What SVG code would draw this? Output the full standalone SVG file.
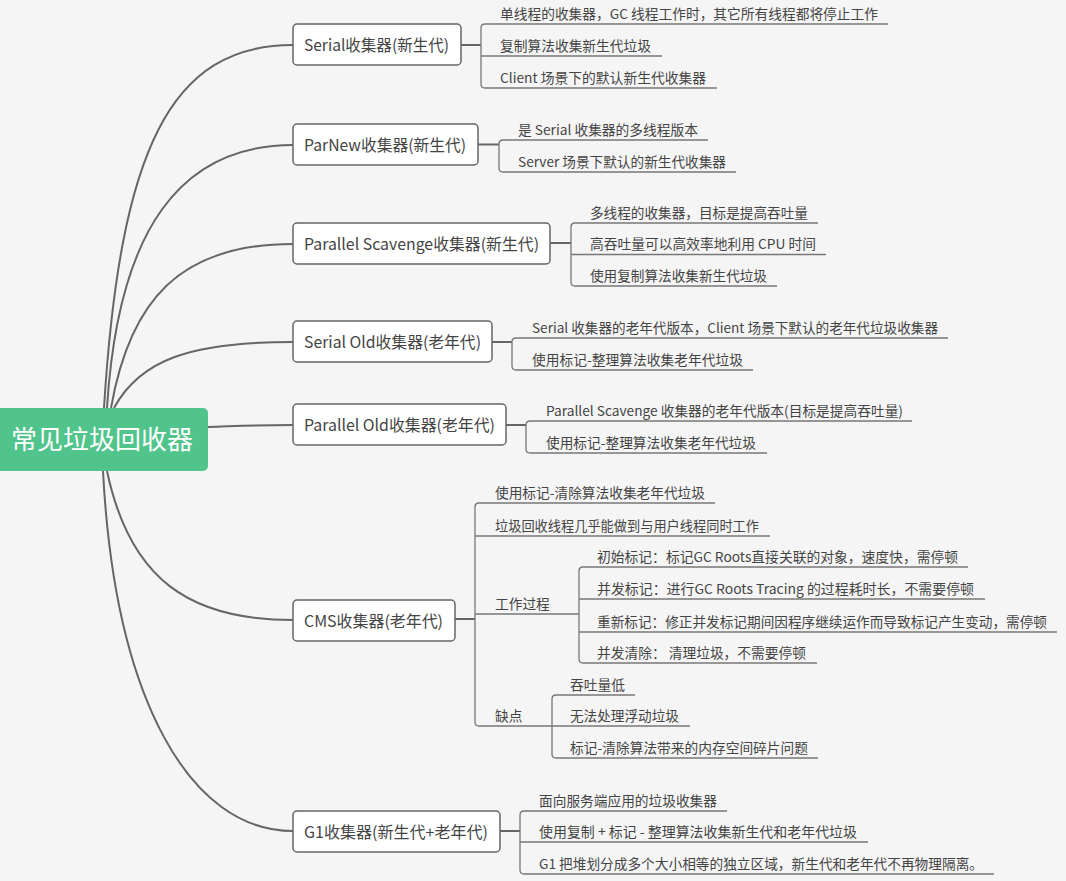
<svg xmlns="http://www.w3.org/2000/svg" width="1066" height="881" viewBox="0 0 1066 881">
<style>
.bg{fill:#f5f5f5}
.curve{fill:none;stroke:#666;stroke-width:2}
.box{fill:#fff;stroke:#666;stroke-width:1.5}
.t1{font-family:"Noto Sans CJK SC","Noto Sans",sans-serif;font-size:16px;fill:#444}
.t2{font-family:"Noto Sans CJK SC","Noto Sans",sans-serif;font-size:13.7px;fill:#444}
.root{font-family:"Noto Sans CJK SC","Noto Sans",sans-serif;font-size:26px;fill:#fff}
.br{fill:none;stroke:#777;stroke-width:1.3}
.cn{fill:none;stroke:#666;stroke-width:2}
</style>
<rect class="bg" x="0" y="0" width="1066" height="881"/>

<g id="connectors">
<path class="curve" d="M104,408 C120,150 170,45 293,45"/>
<path class="curve" d="M107,408 C118,230 180,145 293,145"/>
<path class="curve" d="M111,408 C130,300 180,244 293,244"/>
<path class="curve" d="M114,408 C140,360 190,342 293,342"/>
<path class="curve" d="M208,427 C240,426 260,425 293,425"/>
<path class="curve" d="M107,471 C130,580 190,620 293,620"/>
<path class="curve" d="M103,471 C115,700 190,831 293,831"/>
<!-- Serial -->
<path class="cn" d="M461,45 H481"/>
<path class="br" d="M888,24 H485 Q481,24 481,28 V84 Q481,88 485,88 H717 M481,56 H662"/>
<!-- ParNew -->
<path class="cn" d="M478,144.5 H499"/>
<path class="br" d="M708,140 H503 Q499,140 499,144 V168 Q499,172 503,172 H736"/>
<!-- Parallel Scavenge -->
<path class="cn" d="M550,243 H571"/>
<path class="br" d="M818,223 H575 Q571,223 571,227 V282 Q571,286 575,286 H777 M571,254.5 H826"/>
<!-- Serial Old -->
<path class="cn" d="M492,342 H512"/>
<path class="br" d="M948,338 H516 Q512,338 512,342 V366 Q512,370 516,370 H753"/>
<!-- Parallel Old -->
<path class="cn" d="M506,425 H526"/>
<path class="br" d="M912,421 H530 Q526,421 526,425 V449 Q526,453 530,453 H767"/>
<!-- CMS -->
<path class="cn" d="M455,619 H475"/>
<path class="br" d="M715,503 H479 Q475,503 475,507 V722 Q475,726 479,726 H552 M475,536 H770 M475,614 H579"/>
<path class="br" d="M968,567 H583 Q579,567 579,571 V659 Q579,663 583,663 H817 M579,599 H985 M579,632 H1057"/>
<path class="br" d="M635,695 H556 Q552,695 552,699 V754 Q552,758 556,758 H818 M552,726 H690"/>
<!-- G1 -->
<path class="cn" d="M500,831 H520"/>
<path class="br" d="M727,811 H524 Q520,811 520,815 V870 Q520,874 524,874 H994 M520,842 H868"/>
</g>

<g id="root">
<rect x="-10" y="408" width="218" height="63" rx="5" fill="#51c48b"/>
<text class="root" x="11" y="449" textLength="182" lengthAdjust="spacingAndGlyphs">常见垃圾回收器</text>
</g>

<g id="serial">
<rect class="box" x="293" y="24" width="168" height="41" rx="4"/>
<text class="t1" x="304" y="50.5" textLength="145" lengthAdjust="spacingAndGlyphs">Serial收集器(新生代)</text>
<text class="t2" x="500" y="18.5" textLength="378" lengthAdjust="spacingAndGlyphs">单线程的收集器，GC 线程工作时，其它所有线程都将停止工作</text>
<text class="t2" x="500" y="50.5" textLength="151" lengthAdjust="spacingAndGlyphs">复制算法收集新生代垃圾</text>
<text class="t2" x="500" y="82.5" textLength="206" lengthAdjust="spacingAndGlyphs">Client 场景下的默认新生代收集器</text>
</g>

<g id="parnew">
<rect class="box" x="293" y="124" width="185" height="41" rx="4"/>
<text class="t1" x="304" y="150.5" textLength="162" lengthAdjust="spacingAndGlyphs">ParNew收集器(新生代)</text>
<text class="t2" x="518" y="134.5" textLength="180" lengthAdjust="spacingAndGlyphs">是 Serial 收集器的多线程版本</text>
<text class="t2" x="518" y="166.5" textLength="208" lengthAdjust="spacingAndGlyphs">Server 场景下默认的新生代收集器</text>
</g>

<g id="parallel-scavenge">
<rect class="box" x="293" y="223" width="257" height="41" rx="4"/>
<text class="t1" x="304" y="249.5" textLength="235" lengthAdjust="spacingAndGlyphs">Parallel Scavenge收集器(新生代)</text>
<text class="t2" x="590" y="217.5" textLength="218" lengthAdjust="spacingAndGlyphs">多线程的收集器，目标是提高吞吐量</text>
<text class="t2" x="590" y="249" textLength="226" lengthAdjust="spacingAndGlyphs">高吞吐量可以高效率地利用 CPU 时间</text>
<text class="t2" x="590" y="280.5" textLength="177" lengthAdjust="spacingAndGlyphs">使用复制算法收集新生代垃圾</text>
</g>

<g id="serial-old">
<rect class="box" x="293" y="321" width="199" height="41" rx="4"/>
<text class="t1" x="304" y="347.5" textLength="177" lengthAdjust="spacingAndGlyphs">Serial Old收集器(老年代)</text>
<text class="t2" x="532" y="332.5" textLength="406" lengthAdjust="spacingAndGlyphs">Serial 收集器的老年代版本，Client 场景下默认的老年代垃圾收集器</text>
<text class="t2" x="532" y="364.5" textLength="211" lengthAdjust="spacingAndGlyphs">使用标记-整理算法收集老年代垃圾</text>
</g>

<g id="parallel-old">
<rect class="box" x="293" y="404" width="213" height="41" rx="4"/>
<text class="t1" x="304" y="430.5" textLength="191" lengthAdjust="spacingAndGlyphs">Parallel Old收集器(老年代)</text>
<text class="t2" x="546" y="415.5" textLength="357" lengthAdjust="spacingAndGlyphs">Parallel Scavenge 收集器的老年代版本(目标是提高吞吐量)</text>
<text class="t2" x="546" y="447.5" textLength="210" lengthAdjust="spacingAndGlyphs">使用标记-整理算法收集老年代垃圾</text>
</g>

<g id="cms">
<rect class="box" x="293" y="600" width="162" height="41" rx="4"/>
<text class="t1" x="304" y="626.5" textLength="139" lengthAdjust="spacingAndGlyphs">CMS收集器(老年代)</text>
<text class="t2" x="495" y="497.5" textLength="210" lengthAdjust="spacingAndGlyphs">使用标记-清除算法收集老年代垃圾</text>
<text class="t2" x="495" y="530.5" textLength="264" lengthAdjust="spacingAndGlyphs">垃圾回收线程几乎能做到与用户线程同时工作</text>
<text class="t2" x="495" y="608.5">工作过程</text>
<text class="t2" x="495" y="720.5">缺点</text>
<text class="t2" x="597" y="561.5" textLength="361" lengthAdjust="spacingAndGlyphs">初始标记：标记GC Roots直接关联的对象，速度快，需停顿</text>
<text class="t2" x="597" y="593.5" textLength="377" lengthAdjust="spacingAndGlyphs">并发标记：进行GC Roots Tracing 的过程耗时长，不需要停顿</text>
<text class="t2" x="597" y="626.5" textLength="450" lengthAdjust="spacingAndGlyphs">重新标记：修正并发标记期间因程序继续运作而导致标记产生变动，需停顿</text>
<text class="t2" x="597" y="657.5" textLength="209" lengthAdjust="spacingAndGlyphs">并发清除： 清理垃圾，不需要停顿</text>
<text class="t2" x="570" y="689.5" textLength="55" lengthAdjust="spacingAndGlyphs">吞吐量低</text>
<text class="t2" x="570" y="720.5" textLength="109" lengthAdjust="spacingAndGlyphs">无法处理浮动垃圾</text>
<text class="t2" x="570" y="752.5" textLength="238" lengthAdjust="spacingAndGlyphs">标记-清除算法带来的内存空间碎片问题</text>
</g>

<g id="g1">
<rect class="box" x="293" y="811" width="207" height="41" rx="4"/>
<text class="t1" x="304" y="837.5" textLength="184" lengthAdjust="spacingAndGlyphs">G1收集器(新生代+老年代)</text>
<text class="t2" x="539" y="805.5" textLength="178" lengthAdjust="spacingAndGlyphs">面向服务端应用的垃圾收集器</text>
<text class="t2" x="539" y="836.5" textLength="318" lengthAdjust="spacingAndGlyphs">使用复制 + 标记 - 整理算法收集新生代和老年代垃圾</text>
<text class="t2" x="539" y="868.5" textLength="444" lengthAdjust="spacingAndGlyphs">G1 把堆划分成多个大小相等的独立区域，新生代和老年代不再物理隔离。</text>
</g>
</svg>
